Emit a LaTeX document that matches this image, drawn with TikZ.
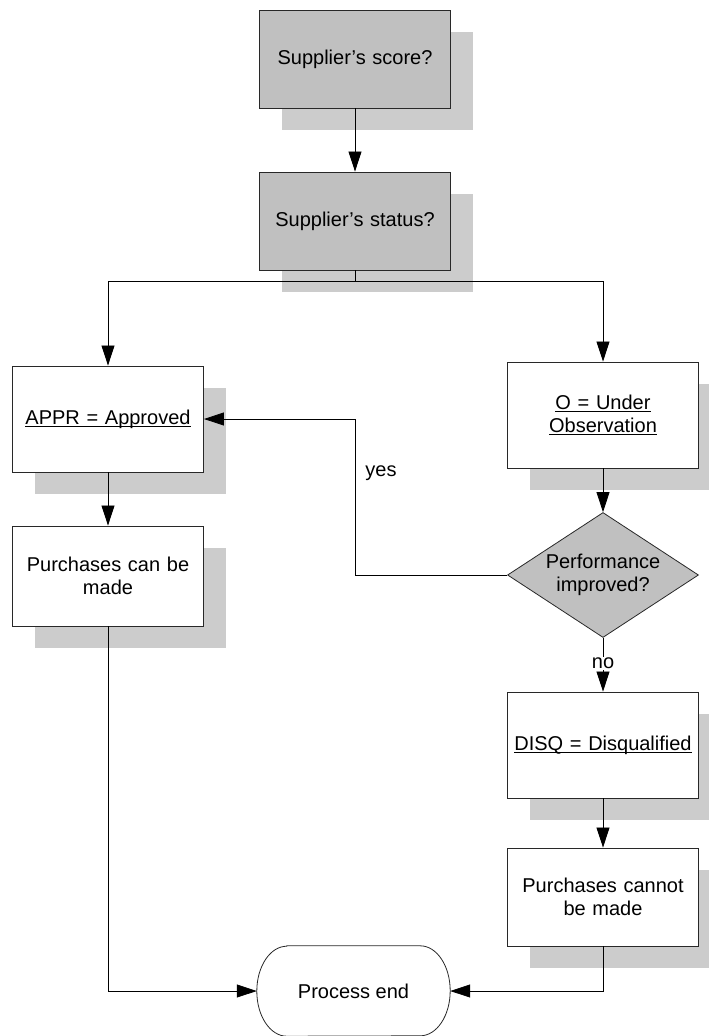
\documentclass[tikz,border=0pt]{standalone}
\usepackage{fontspec}
\setmainfont{Liberation Sans}
\usetikzlibrary{shapes.geometric,shadows,arrows.meta}
\definecolor{boxgray}{RGB}{192,192,192}
\definecolor{shadowgray}{RGB}{204,204,204}
\definecolor{linegray}{RGB}{40,40,40}
% underline drawn just below the baseline
\newcommand{\undl}[1]{\leavevmode\setbox0\hbox{#1}\rlap{\rule[-3.2pt]{\wd0}{0.9pt}}\box0}
\begin{document}
\begin{tikzpicture}[x=1pt,y=-1pt,
  font=\fontsize{20}{23}\selectfont,
  shadowed/.style={general shadow={fill=shadowgray, shadow xshift=22pt, shadow yshift=-22pt}},
  stepbox/.style={draw=linegray, line width=0.9pt, fill=white, minimum width=191pt,
    text width=185pt, align=center, inner sep=0pt, shadowed},
  graybox/.style={stepbox, fill=boxgray},
  decision/.style={diamond, draw=linegray, line width=0.8pt, fill=boxgray, aspect=1.53,
    minimum width=191pt, minimum height=125pt, inner sep=0pt, align=center},
  flow/.style={draw=black, line width=0.8pt},
  arrow/.style={flow, -{Triangle[length=20pt,width=13pt]}},
  lbl/.style={inner sep=1pt}
]
\useasboundingbox (0,0) rectangle (709,1036);

% process boxes
\node[graybox, minimum height=98pt] (score) at (355,59) {Supplier's score?};
\node[graybox, minimum height=98pt] (status) at (355,221) {Supplier's status?};
\node[stepbox, minimum height=106pt] (appr) at (108,419) {\undl{APPR = Approved}};
\node[stepbox, minimum height=100pt] (canbuy) at (108,576) {Purchases can be\\made};
\node[stepbox, minimum height=106pt] (obs) at (603,415) {\undl{O = Under}\\\undl{Observation}};
\node[decision] (perf) at (603,575) {Performance\\improved?};
\node[stepbox, minimum height=106pt] (disq) at (603,745) {\undl{DISQ = Disqualified}};
\node[stepbox, minimum height=98pt] (cannot) at (603,897) {Purchases cannot\\be made};

% terminal
\node[minimum width=193pt, minimum height=90pt, inner sep=0pt] (end) at (353.5,991) {Process end};
\draw[draw=linegray, line width=0.8pt]
  ([xshift=30pt]end.north west) -- ([xshift=-30pt]end.north east)
  arc[start angle=90, end angle=-90, x radius=30pt, y radius=45pt]
  -- ([xshift=30pt]end.south west)
  arc[start angle=270, end angle=90, x radius=30pt, y radius=45pt] -- cycle;

% connectors
\coordinate (split) at (355,281);
\draw[arrow] (score) -- (status);
\draw[flow] (status) -- (split);
\draw[arrow] (split) -| (appr.north);
\draw[arrow] (split) -| (obs.north);
\draw[arrow] (appr) -- (canbuy);
\draw[arrow] (obs) -- (perf);
\draw[arrow] (perf.west) -- (355,575) |- (appr.east)
  node[lbl, pos=0.35, xshift=26pt, yshift=-7pt] {yes};
\draw[arrow] (perf.south) -- (disq.north)
  node[lbl, fill=white, pos=0.47] {no};
\draw[arrow] (disq) -- (cannot);
\draw[arrow] (canbuy.south) |- (end.west);
\draw[arrow] (cannot.south) |- (end.east);
\end{tikzpicture}
\end{document}
